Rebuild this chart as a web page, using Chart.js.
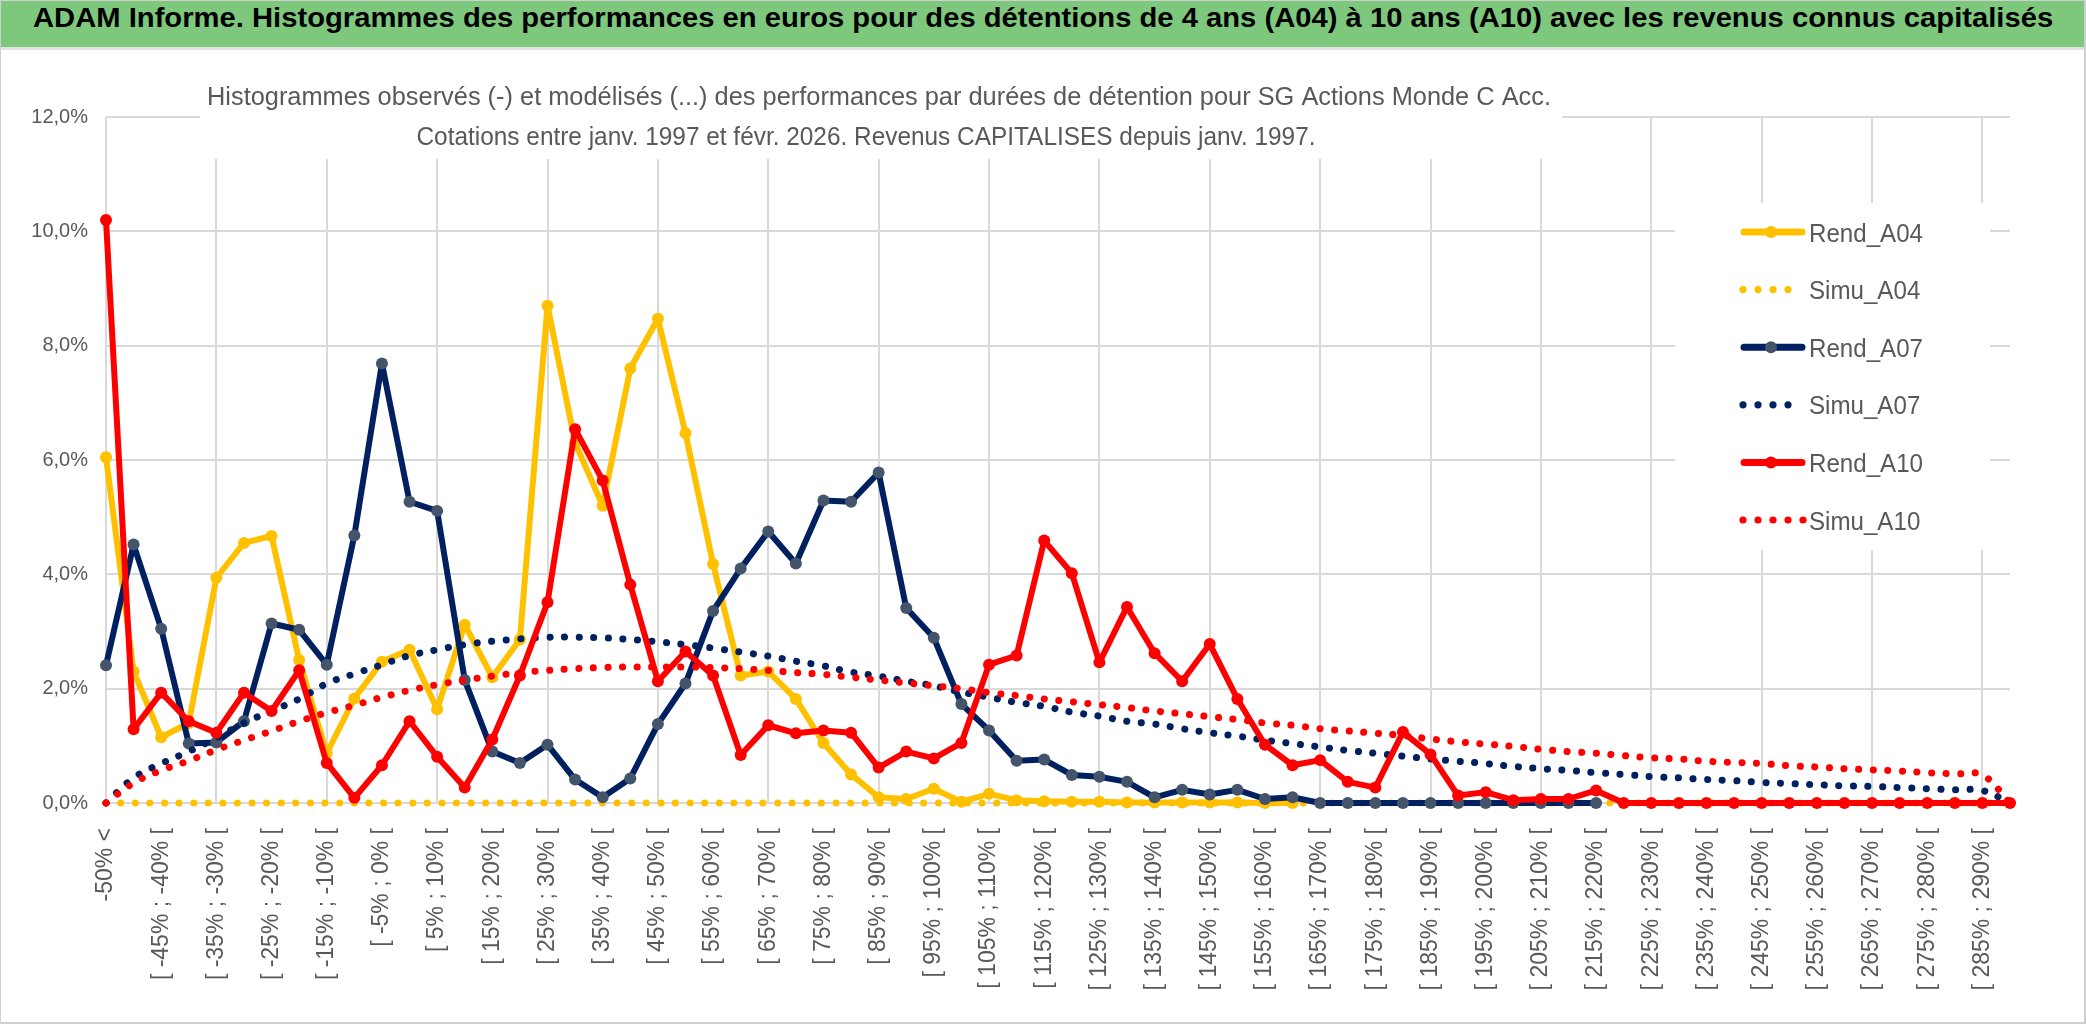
<!DOCTYPE html>
<html>
<head>
<meta charset="utf-8">
<script src="https://cdn.jsdelivr.net/npm/chart.js@4.4.1/dist/chart.umd.min.js"></script>
<style>
  html, body { margin: 0; padding: 0; background: #fff; }
  #wrap { position: relative; width: 2086px; height: 1031px; overflow: hidden; background: #fff; }
  #band { position: absolute; left: 0; top: 0; width: 2086px; height: 50px; background: #7dc87d; border-bottom: 3px solid #e2e2e2; border-top: 1px solid #9a9a9a; box-sizing: border-box; z-index: 2; }
  #titre { position: absolute; left: 33px; top: 2px; line-height: 50px; font: bold 27px "Liberation Sans", sans-serif; color: #000; white-space: nowrap; transform-origin: 0 0; }
  #cadre { position: absolute; left: 0; top: 0; width: 2083px; height: 1021px; border: 1px solid #d0d0d0; border-bottom: 2px solid #cfcfcf; border-right: 2px solid #cfcfcf; z-index: 3; pointer-events: none; }
  canvas { position: absolute; left: 0; top: 0; }
</style>
</head>
<body>
<div id="wrap">
  <div id="band"><span id="titre">ADAM Informe. Histogrammes des performances en euros pour des détentions de 4 ans (A04) à 10 ans (A10) avec les revenus connus capitalisés</span></div>
  <canvas id="graphique" width="2086" height="1031" style="width:2086px;height:1031px"></canvas>
  <div id="cadre"></div>
</div>
<script>
const sousTitre = [
  "Histogrammes observés (-) et modélisés (...) des performances par durées de détention pour SG Actions Monde C Acc.",
  "Cotations entre janv. 1997 et févr. 2026. Revenus CAPITALISES depuis janv. 1997."
];

const categories = [
  "-50% <", "[ -50% ; -45% [", "[ -45% ; -40% [", "[ -40% ; -35% [", "[ -35% ; -30% [", "[ -30% ; -25% [", "[ -25% ; -20% [", "[ -20% ; -15% [", "[ -15% ; -10% [", "[ -10% ; -5% [",
  "[ -5% ; 0% [", "[ 0% ; 5% [", "[ 5% ; 10% [", "[ 10% ; 15% [", "[ 15% ; 20% [", "[ 20% ; 25% [", "[ 25% ; 30% [", "[ 30% ; 35% [", "[ 35% ; 40% [", "[ 40% ; 45% [",
  "[ 45% ; 50% [", "[ 50% ; 55% [", "[ 55% ; 60% [", "[ 60% ; 65% [", "[ 65% ; 70% [", "[ 70% ; 75% [", "[ 75% ; 80% [", "[ 80% ; 85% [", "[ 85% ; 90% [", "[ 90% ; 95% [",
  "[ 95% ; 100% [", "[ 100% ; 105% [", "[ 105% ; 110% [", "[ 110% ; 115% [", "[ 115% ; 120% [", "[ 120% ; 125% [", "[ 125% ; 130% [", "[ 130% ; 135% [", "[ 135% ; 140% [", "[ 140% ; 145% [",
  "[ 145% ; 150% [", "[ 150% ; 155% [", "[ 155% ; 160% [", "[ 160% ; 165% [", "[ 165% ; 170% [", "[ 170% ; 175% [", "[ 175% ; 180% [", "[ 180% ; 185% [", "[ 185% ; 190% [", "[ 190% ; 195% [",
  "[ 195% ; 200% [", "[ 200% ; 205% [", "[ 205% ; 210% [", "[ 210% ; 215% [", "[ 215% ; 220% [", "[ 220% ; 225% [", "[ 225% ; 230% [", "[ 230% ; 235% [", "[ 235% ; 240% [", "[ 240% ; 245% [",
  "[ 245% ; 250% [", "[ 250% ; 255% [", "[ 255% ; 260% [", "[ 260% ; 265% [", "[ 265% ; 270% [", "[ 270% ; 275% [", "[ 275% ; 280% [", "[ 280% ; 285% [", "[ 285% ; 290% [", "[ 290% ; 295% ["
];

// valeurs en %
const rendA04 = [
  6.05, 2.3, 1.15, 1.4, 3.94, 4.55, 4.67, 2.5, 0.87, 1.83,
  2.47, 2.68, 1.64, 3.12, 2.2, 2.86, 8.7, 6.3, 5.2, 7.6,
  8.47, 6.47, 4.18, 2.23, 2.3, 1.82, 1.05, 0.5, 0.1, 0.07,
  0.25, 0.02, 0.16, 0.05, 0.03, 0.02, 0.02, 0.01, 0.01, 0.01,
  0.01, 0.01, 0, 0, null, null, null, null, null, null,
  null, null, null, null, null, null, null, null, null, null,
  null, null, null, null, null, null, null, null, null, null
];
const simuA04 = [
  0, 0, 0, 0, 0, 0, 0, 0, 0, 0,
  0, 0, 0, 0, 0, 0, 0, 0, 0, 0,
  0, 0, 0, 0, 0, 0, 0, 0, 0, 0,
  0, 0, 0, 0, 0, 0, 0, 0, 0, 0,
  0, 0, 0, 0, 0, 0, 0, 0, 0, 0,
  0, 0, 0, 0, 0, 0, 0, 0, 0, 0,
  0, 0, 0, 0, 0, 0, 0, 0, 0, 0
];
const rendA07 = [
  2.41, 4.52, 3.05, 1.04, 1.06, 1.43, 3.14, 3.03, 2.42, 4.68,
  7.69, 5.27, 5.11, 2.15, 0.9, 0.7, 1.02, 0.41, 0.1, 0.43,
  1.38, 2.09, 3.36, 4.1, 4.75, 4.19, 5.29, 5.27, 5.78, 3.41,
  2.89, 1.73, 1.27, 0.74, 0.76, 0.49, 0.46, 0.37, 0.1, 0.23,
  0.15, 0.23, 0.07, 0.1, 0, 0, 0, 0, 0, 0,
  0, 0, 0, 0, 0, null, null, null, null, null,
  null, null, null, null, null, null, null, null, null, null
];
const simuA07 = [
  0, 0.44, 0.69, 0.9, 1.14, 1.4, 1.61, 1.82, 2.09, 2.26,
  2.42, 2.58, 2.68, 2.77, 2.83, 2.87, 2.9, 2.9, 2.89, 2.86,
  2.82, 2.77, 2.71, 2.64, 2.57, 2.48, 2.4, 2.29, 2.22, 2.13,
  2.05, 1.94, 1.85, 1.76, 1.69, 1.59, 1.52, 1.43, 1.38, 1.3,
  1.23, 1.17, 1.1, 1.04, 0.98, 0.92, 0.87, 0.82, 0.77, 0.73,
  0.69, 0.64, 0.6, 0.57, 0.53, 0.5, 0.46, 0.44, 0.41, 0.39,
  0.36, 0.34, 0.32, 0.3, 0.29, 0.27, 0.25, 0.23, 0.22, 0
];
const rendA10 = [
  10.2, 1.29, 1.93, 1.43, 1.23, 1.93, 1.61, 2.32, 0.7, 0.09,
  0.66, 1.43, 0.81, 0.27, 1.11, 2.23, 3.51, 6.54, 5.64, 3.82,
  2.13, 2.65, 2.23, 0.84, 1.36, 1.22, 1.27, 1.23, 0.62, 0.9,
  0.78, 1.05, 2.42, 2.58, 4.59, 4.02, 2.46, 3.43, 2.62, 2.13,
  2.78, 1.82, 1.02, 0.66, 0.75, 0.37, 0.27, 1.24, 0.85, 0.13,
  0.19, 0.05, 0.07, 0.07, 0.22, 0, 0, 0, 0, 0,
  0, 0, 0, 0, 0, 0, 0, 0, 0, 0
];
const simuA10 = [
  0, 0.35, 0.57, 0.74, 0.93, 1.1, 1.26, 1.43, 1.58, 1.71,
  1.85, 1.97, 2.07, 2.15, 2.22, 2.28, 2.32, 2.35, 2.37, 2.38,
  2.38, 2.38, 2.37, 2.35, 2.32, 2.28, 2.25, 2.2, 2.15, 2.1,
  2.05, 2.0, 1.93, 1.88, 1.82, 1.77, 1.72, 1.67, 1.61, 1.56,
  1.51, 1.46, 1.4, 1.36, 1.3, 1.26, 1.22, 1.18, 1.12, 1.07,
  1.03, 0.99, 0.94, 0.9, 0.87, 0.83, 0.79, 0.77, 0.73, 0.71,
  0.69, 0.65, 0.63, 0.6, 0.58, 0.56, 0.53, 0.51, 0.49, 0
];
const yTicks = [0, 2, 4, 6, 8, 10, 12];

const JAUNE = "#ffc000", MARINE = "#002060", ARDOISE = "#44546a", ROUGE = "#ff0000", GRIS = "#595959", GRILLE = "#d9d9d9";

// titre ajuste a la largeur du bandeau
const titre = document.getElementById("titre");
titre.style.transform = "scaleX(" + (2020 / titre.offsetWidth) + ")";

function aPolice(nom) {
  const c = document.createElement("canvas").getContext("2d");
  c.font = "40px monospace";
  const a = c.measureText("abcdefghijklmnop12345%").width;
  c.font = '40px "' + nom + '", monospace';
  return c.measureText("abcdefghijklmnop12345%").width !== a;
}
const etroite = aPolice("Liberation Sans Narrow");
const policeY = etroite ? { family: '"Liberation Sans Narrow"', size: 22 } : { family: '"Liberation Sans"', size: 20 };

function texteAjuste(ctx, txt, x, y, largeur, font, align) {
  ctx.font = font;
  const s = largeur / ctx.measureText(txt).width;
  ctx.save();
  ctx.translate(x, y);
  ctx.scale(s, 1);
  ctx.textAlign = align;
  ctx.fillText(txt, 0, 0);
  ctx.restore();
  return s;
}

const legende = [
  { nom: "Rend_A04", c: JAUNE, m: JAUNE, plein: true },
  { nom: "Simu_A04", c: JAUNE, points: 4 },
  { nom: "Rend_A07", c: MARINE, m: ARDOISE, plein: true },
  { nom: "Simu_A07", c: MARINE, points: 4 },
  { nom: "Rend_A10", c: ROUGE, m: ROUGE, plein: true },
  { nom: "Simu_A10", c: ROUGE, points: 5 }
];

const habillage = {
  id: "habillage",
  beforeDatasetsDraw(chart) {
    const ctx = chart.ctx;
    ctx.save();
    ctx.fillStyle = "#fff";
    ctx.fillRect(200, 66, 1362, 93);
    ctx.fillRect(1675, 203, 315, 347);
    ctx.fillStyle = GRIS;
    ctx.textBaseline = "alphabetic";
    texteAjuste(ctx, sousTitre[0], 879, 105, 1344, '25px "Liberation Sans"', "center");
    texteAjuste(ctx, sousTitre[1], 866, 145, 899, '25px "Liberation Sans"', "center");

    ctx.font = '26px "Liberation Sans"';
    const s = 114 / ctx.measureText("Rend_A04").width;
    legende.forEach((e, k) => {
      const y = 232 + k * 57.6;
      if (e.plein) {
        ctx.strokeStyle = e.c;
        ctx.lineWidth = 7;
        ctx.lineCap = "round";
        ctx.beginPath();
        ctx.moveTo(1744, y);
        ctx.lineTo(1802, y);
        ctx.stroke();
        ctx.fillStyle = e.m;
        ctx.beginPath();
        ctx.arc(1771, y, 6, 0, Math.PI * 2);
        ctx.fill();
      } else {
        ctx.fillStyle = e.c;
        for (let p = 0; p < e.points; p++) {
          ctx.beginPath();
          ctx.arc(1743 + p * 15, y, 3.6, 0, Math.PI * 2);
          ctx.fill();
        }
      }
      ctx.fillStyle = GRIS;
      ctx.save();
      ctx.translate(1809, y + 9.5);
      ctx.scale(s, 1);
      ctx.textAlign = "left";
      ctx.fillText(e.nom, 0, 0);
      ctx.restore();
    });
    ctx.restore();
  }
};

function serieRend(label, data, couleur, marqueur, ordre) {
  return {
    label, data,
    borderColor: couleur, backgroundColor: marqueur,
    borderWidth: 6, tension: 0, borderJoinStyle: "round",
    pointRadius: 6, pointBorderWidth: 0, pointBackgroundColor: marqueur,
    spanGaps: false, clip: false, order: ordre
  };
}
function serieSimu(label, data, couleur, ordre) {
  return {
    label, data,
    borderColor: couleur, backgroundColor: couleur,
    borderWidth: 7, borderDash: [0.1, 14.5], borderCapStyle: "round",
    tension: 0.4, pointRadius: 0, clip: false, order: ordre
  };
}

new Chart(document.getElementById("graphique"), {
  type: "line",
  data: {
    labels: categories,
    datasets: [
      serieRend("Rend_A04", rendA04, JAUNE, JAUNE, 5),
      serieSimu("Simu_A04", simuA04, JAUNE, 4),
      serieRend("Rend_A07", rendA07, MARINE, ARDOISE, 3),
      serieSimu("Simu_A07", simuA07, MARINE, 2),
      serieRend("Rend_A10", rendA10, ROUGE, ROUGE, 1),
      serieSimu("Simu_A10", simuA10, ROUGE, 0)
    ]
  },
  options: {
    responsive: false,
    devicePixelRatio: 1,
    animation: false,
    layout: { padding: { left: 0, top: 117, right: 76, bottom: 20 } },
    plugins: { legend: { display: false }, tooltip: { enabled: false } },
    scales: {
      x: {
        offset: false,
        afterFit: (sc) => { sc.height = 208; },
        grid: { color: (c) => (c.index % 4 === 0 ? GRILLE : "rgba(0,0,0,0)"), lineWidth: 2, drawTicks: false },
        border: { display: false },
        ticks: {
          autoSkip: false, minRotation: 90, maxRotation: 90, padding: 25,
          color: GRIS, font: { family: '"Liberation Sans"', size: 23 },
          callback: (v, i) => (i % 2 === 0 ? categories[i] : "")
        }
      },
      y: {
        min: 0, max: 12,
        afterFit: (sc) => { sc.width = 106; },
        afterBuildTicks: (sc) => { sc.ticks = yTicks.map((v) => ({ value: v })); },
        grid: { color: GRILLE, lineWidth: 2, drawTicks: false },
        border: { display: false },
        ticks: {
          padding: 18, color: GRIS, font: policeY,
          callback: (v) => v.toFixed(1).replace(".", ",") + "%"
        }
      }
    }
  },
  plugins: [habillage]
});
</script>
</body>
</html>
